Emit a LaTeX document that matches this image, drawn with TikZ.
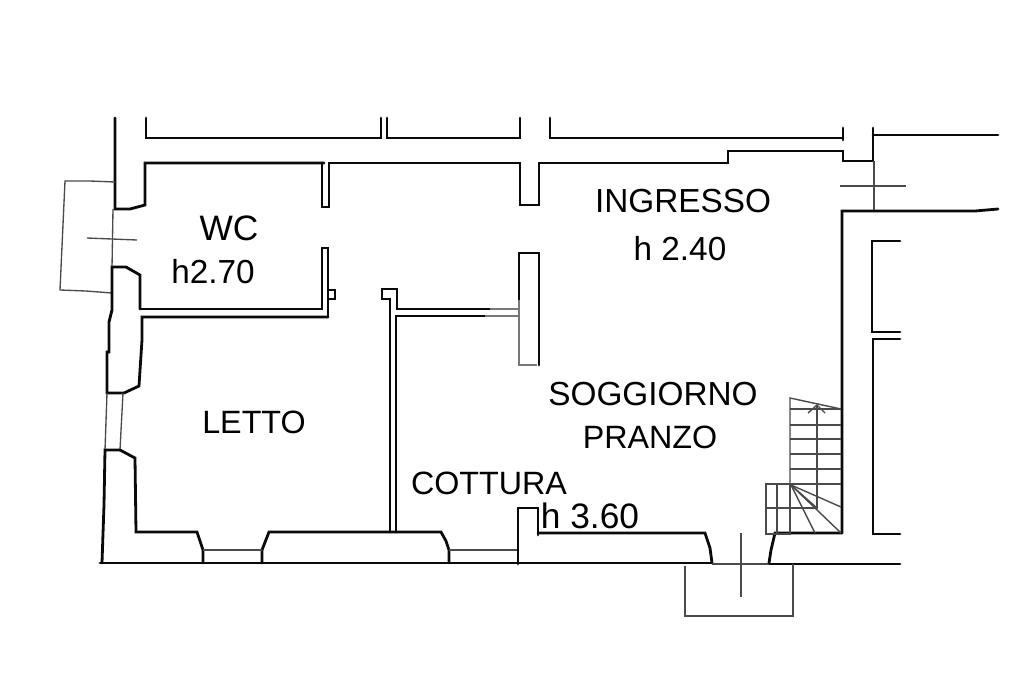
\documentclass[tikz,border=0pt]{standalone}
\usepackage{fontspec}
\setmainfont{Liberation Sans}
\definecolor{ink}{HTML}{0A0A0A}
\definecolor{faded}{HTML}{777777}
\definecolor{thingrey}{HTML}{4A4A4A}
\tikzset{
  wall/.style={draw=ink,line width=2.1pt,line join=miter,line cap=round},
  midwall/.style={draw=ink,line width=1.5pt,line join=miter},
  fadedwall/.style={draw=faded,line width=1.8pt},
  thinline/.style={draw=thingrey,line width=1pt},
  stairline/.style={draw=thingrey,line width=1.05pt},
  room/.style={font=\fontsize{25}{30}\selectfont,text=black,inner sep=0pt,anchor=center},
  roomtight/.style={font=\fontsize{24.2}{30}\selectfont,text=black,inner sep=0pt,anchor=center},
  roomwide/.style={font=\fontsize{26.5}{30}\selectfont,text=black,inner sep=0pt,anchor=center}
}
\begin{document}
\begin{tikzpicture}[x=0.75pt,y=-0.75pt]
\useasboundingbox (0,0) rectangle (1024,682);
\fill[white] (0,0) rectangle (1024,682);

% --- top inner/outer wall lines
\draw[wall] (115,118) -- (115,209) -- (130,209) -- (145,205) -- (145,163) -- (324,163);
\draw[wall] (146,118) -- (146,138) -- (381,138) -- (381,118);
\draw[wall] (387,118) -- (387,138) -- (520,138) -- (520,118);
\draw[wall] (550,118) -- (550,138) -- (843,138);
\draw[wall] (843,128) -- (843,140);
\draw[wall] (873,128) -- (873,161) -- (843,161) -- (843,151) -- (728,151) -- (728,163) -- (539,163) -- (539,205) -- (520,205) -- (520,163) -- (329,163) -- (329,207) -- (322,207) -- (322,163);
\draw[wall] (873,135) -- (998,135);

% --- west wall, WC
\draw[thinline] (113,209) -- (112,268);
\draw[thinline] (115,182) -- (90,181) -- (65,181) -- (60,290) -- (86,291) -- (112,293);
\draw[thinline] (87,238) -- (137,240);
\draw[wall] (140,309) -- (140,275) -- (126,267) -- (112,267) -- (112,310) -- (109,322) -- (109,352) -- (107,352) -- (107,393) -- (124,393) -- (139,386) -- (141,355) -- (142,340) -- (142,317) -- (328,317);
\draw[wall] (140,309) -- (322,309) -- (322,248) -- (328,248) -- (328,317);
\draw[midwall] (328,290) -- (335,290) -- (335,299) -- (329,299);

% --- west window
\draw[thinline] (107,393) -- (105,450);
\draw[thinline] (123,393) -- (120,450);

% --- south-west corner and south wall
\draw[wall] (120,450) -- (105,450) -- (104,505) -- (102,563);
\draw[wall] (120,450) -- (135,458) -- (136,532) -- (197,532) -- (203,550) -- (203,563);
\draw[wall] (262,563) -- (262,550) -- (269,532) -- (396,532);
\draw[thinline] (203,550) -- (262,550);
\draw[wall] (100,563) -- (262,563);
\draw[midwall] (262,563) -- (712,563);
\draw[wall] (396,532) -- (441,532) -- (446,541) -- (449,550) -- (449,563);
\draw[thinline] (449,550) -- (518,550);
\draw[wall] (518,564) -- (518,508) -- (538,508) -- (538,535);
\draw[wall] (538,533) -- (705,533) -- (710,548) -- (712,563);
\draw[thinline] (712,564) -- (770,564);
\draw[wall] (769,563) -- (771,550) -- (775,533) -- (842,533);
\draw[wall] (770,564) -- (900,564);

% --- partition kitchen / bedroom
\draw[wall] (390,532) -- (390,299) -- (382,299) -- (382,289) -- (397,289) -- (397,309) -- (490,309);
\draw[wall] (396,532) -- (396,316) -- (490,316);
\draw[fadedwall] (490,309) -- (520,309);
\draw[fadedwall] (485,316) -- (520,316);

% --- central pier
\draw[wall] (519,300) -- (519,253) -- (539,253) -- (539,365);
\draw[fadedwall] (519,300) -- (519,365) -- (537,365);

% --- east walls
\draw[wall] (842,533) -- (842,211) -- (975,211) -- (998,209);
\draw[wall] (900,241) -- (872,241) -- (872,332) -- (900,332);
\draw[wall] (900,339) -- (873,339) -- (873,534) -- (900,534);
\draw[thinline] (874,161) -- (874,210);
\draw[thinline] (840,186) -- (906,186);

% --- south entrance step
\draw[thinline] (685,566) -- (685,616) -- (793,616) -- (793,564);
\draw[thinline] (741,533) -- (741,597);

% --- stairs
\draw[stairline] (790,484) -- (790,398) -- (841,409);
\foreach \yy in {409,425,439,454,469,484} \draw[stairline] (790,\yy) -- (841,\yy);
\draw[stairline] (817,405) -- (817,508) -- (766,508);
\draw[stairline] (790,484) -- (766,484) -- (766,534) -- (790,534) -- (790,484);
\draw[stairline] (777,484) -- (777,534);
\draw[stairline] (791,485) -- (841,507);
\draw[stairline] (791,485) -- (841,533);
\draw[stairline] (791,485) -- (815,533);
\draw[stairline] (791,485) -- (817,508);
\draw[stairline] (808,413) -- (817,405) -- (825,413);

% --- labels
\node[roomwide] (wc) at (229,228) {WC};
\node[room] (wch) at (213,272) {h2.70};
\node[room] (ingresso) at (683,201) {INGRESSO};
\node[room] (ingh) at (680,249) {h 2.40};
\node[roomtight] (letto) at (254,422) {LETTO};
\node[room] (sogg) at (653,394) {SOGGIORNO};
\node[roomtight] (pranzo) at (650,437) {PRANZO};
\node[roomtight] (cottura) at (489,483) {COTTURA};
\node[roomwide] (cotth) at (590,516) {h 3.60};
\end{tikzpicture}
\end{document}
